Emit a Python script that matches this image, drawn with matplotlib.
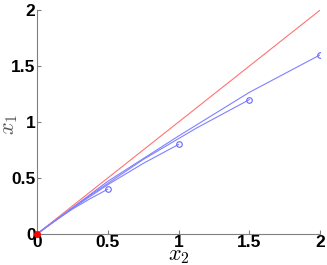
import numpy as np
import matplotlib.pyplot as plt

plt.rcParams['mathtext.fontset'] = 'cm'

# red reference line
ref_x = [0, 2]
ref_y = [0, 2]

# blue trajectories, each ending at a circle marker
curves_x = [
    [0, 0.125, 0.25, 0.375, 0.5],
    [0, 0.25, 0.5, 0.75, 1.0],
    [0, 0.375, 0.75, 1.125, 1.5],
    [0, 0.5, 1.0, 1.5, 2.0],
]
curves_y = [
    [0, 0.115, 0.222, 0.315, 0.4],
    [0, 0.23, 0.44, 0.63, 0.8],
    [0, 0.345, 0.665, 0.945, 1.2],
    [0, 0.47, 0.875, 1.265, 1.6],
]

fig = plt.figure(figsize=(3.27, 2.65), dpi=100)
ax = fig.add_axes([0.113, 0.117, 0.866, 0.845])

ax.plot(ref_x, ref_y, color=(1, 0.45, 0.45), lw=0.8)
for cx, cy in zip(curves_x, curves_y):
    ax.plot(cx, cy, color=(0.5, 0.5, 1), lw=0.8)
    ax.plot(cx[-1], cy[-1], 'o', mfc='none', mec=(0.4, 0.4, 1), ms=4, mew=0.8)
ax.plot(0, 0, 'o', color='red', ms=4, clip_on=False, zorder=5)

ax.set_xlim(0, 2)
ax.set_ylim(0, 2)
ax.set_xticks([0, 0.5, 1, 1.5, 2])
ax.set_yticks([0, 0.5, 1, 1.5, 2])
ax.set_xticklabels(['0', '0.5', '1', '1.5', '2'])
ax.set_yticklabels(['0', '0.5', '1', '1.5', '2'])
for lab in ax.get_xticklabels() + ax.get_yticklabels():
    lab.set_fontweight('bold')
    lab.set_fontsize(12.5)
    lab.set_family('Liberation Sans')
ax.tick_params(direction='in', length=3, color='gray', pad=1)
ax.spines['top'].set_visible(False)
ax.spines['right'].set_visible(False)
ax.spines['left'].set_color('gray')
ax.spines['bottom'].set_color('gray')

ax.set_xlabel(r'$x_2$', fontsize=16, va='center')
ax.xaxis.set_label_coords(0.5, -0.1)
ax.set_ylabel(r'$x_1$', fontsize=16, color='#555555', va='center')
ax.yaxis.set_label_coords(-0.095, 0.49)

plt.savefig('out.png', dpi=100)
